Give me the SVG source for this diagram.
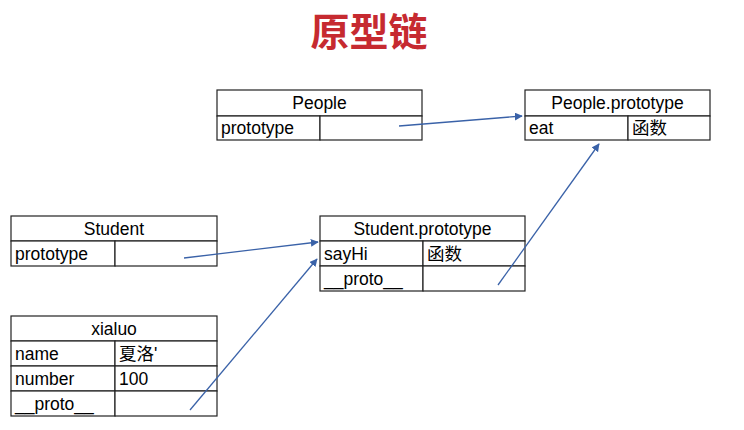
<svg xmlns="http://www.w3.org/2000/svg" width="744" height="430" viewBox="0 0 744 430">
<style>
.cell{fill:#fff;stroke:#222;stroke-width:1.2}
.t{font-family:"Liberation Sans","Noto Sans CJK SC",sans-serif;font-size:17.5px;fill:#000}
.h{text-anchor:middle}
.conn{stroke:#3a62a8;stroke-width:1.3;fill:none;marker-end:url(#ah)}
</style>
<defs>
<marker id="ah" viewBox="0 0 10 10" refX="9" refY="5" markerWidth="8" markerHeight="8" markerUnits="userSpaceOnUse" orient="auto">
<path d="M0,0 L10,5 L0,10 z" fill="#3a62a8"/>
</marker>
</defs>
<rect width="744" height="430" fill="#fff"/>
<text x="369" y="46" text-anchor="middle" font-family="Noto Sans CJK SC,sans-serif" font-weight="bold" font-size="39" fill="#c62a30">原型链</text>

<g id="People">
<rect class="cell" x="217" y="90" width="205" height="26"/>
<rect class="cell" x="217" y="116" width="103" height="24"/>
<rect class="cell" x="320" y="116" width="102" height="24"/>
<text class="t h" x="319.5" y="109">People</text>
<text class="t" x="221" y="134">prototype</text>
</g>

<g id="PeoplePrototype">
<rect class="cell" x="525" y="90" width="185" height="26"/>
<rect class="cell" x="525" y="116" width="103" height="24"/>
<rect class="cell" x="628" y="116" width="82" height="24"/>
<text class="t h" x="617.5" y="109">People.prototype</text>
<text class="t" x="529" y="134">eat</text>
<text class="t" x="632" y="134">函数</text>
</g>

<g id="Student">
<rect class="cell" x="11" y="216" width="206" height="25"/>
<rect class="cell" x="11" y="241" width="104" height="25"/>
<rect class="cell" x="115" y="241" width="102" height="25"/>
<text class="t h" x="114" y="235">Student</text>
<text class="t" x="15" y="260">prototype</text>
</g>

<g id="StudentPrototype">
<rect class="cell" x="320" y="216" width="205" height="25"/>
<rect class="cell" x="320" y="241" width="103" height="25"/>
<rect class="cell" x="423" y="241" width="102" height="25"/>
<rect class="cell" x="320" y="266" width="103" height="25"/>
<rect class="cell" x="423" y="266" width="102" height="25"/>
<text class="t h" x="422.5" y="235">Student.prototype</text>
<text class="t" x="324" y="260">sayHi</text>
<text class="t" x="427" y="260">函数</text>
<text class="t" x="324" y="285">__proto__</text>
</g>

<g id="xialuo">
<rect class="cell" x="11" y="316" width="206" height="25"/>
<rect class="cell" x="11" y="341" width="104" height="25"/>
<rect class="cell" x="115" y="341" width="102" height="25"/>
<rect class="cell" x="11" y="366" width="104" height="25"/>
<rect class="cell" x="115" y="366" width="102" height="25"/>
<rect class="cell" x="11" y="391" width="104" height="25"/>
<rect class="cell" x="115" y="391" width="102" height="25"/>
<text class="t h" x="114" y="335">xialuo</text>
<text class="t" x="15" y="360">name</text>
<text class="t" x="119" y="360">夏洛'</text>
<text class="t" x="15" y="385">number</text>
<text class="t" x="119" y="385">100</text>
<text class="t" x="15" y="410">__proto__</text>
</g>

<g id="connectors">
<line class="conn" x1="399" y1="126" x2="522" y2="116"/>
<line class="conn" x1="184" y1="258" x2="318" y2="242"/>
<line class="conn" x1="190" y1="410" x2="317" y2="259"/>
<line class="conn" x1="498" y1="285" x2="599" y2="144"/>
</g>
</svg>
